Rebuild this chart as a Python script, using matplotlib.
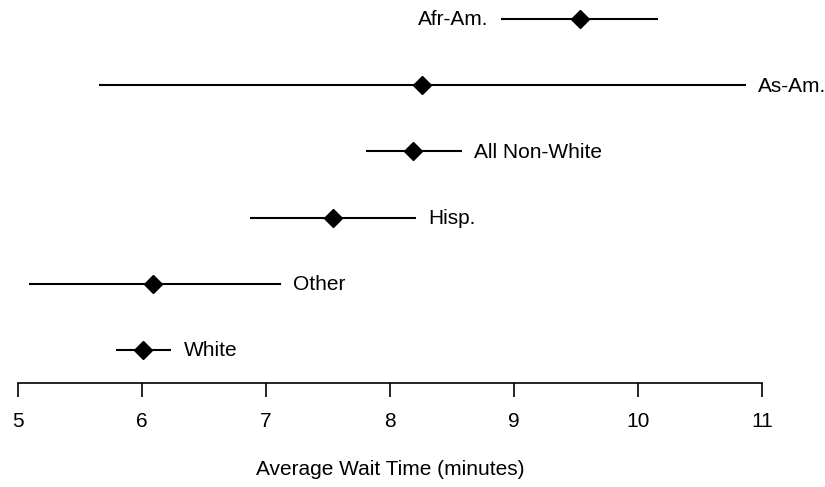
import matplotlib

matplotlib.use("Agg")

import matplotlib.pyplot as plt

plt.rcParams["font.family"] = ["Liberation Sans", "DejaVu Sans"]

# group means with interval bounds (minutes), bottom row first
groups = ["White", "Other", "Hisp.", "All Non-White", "As-Am.", "Afr-Am."]
means = [6.01, 6.09, 7.54, 8.19, 8.26, 9.53]
lower = [5.79, 5.09, 6.875, 7.81, 5.66, 8.90]
upper = [6.24, 7.12, 8.21, 8.58, 10.87, 10.165]
label_left = [False, False, False, False, False, True]

xticks = [5, 6, 7, 8, 9, 10, 11]
FS = 15

fig = plt.figure(figsize=(8.25, 4.87), dpi=100)
ax = fig.add_axes([17.5 / 825, 104 / 487, (762 - 17.5) / 825, 383 / 487])

for i, (name, m, lo, hi, left) in enumerate(zip(groups, means, lower, upper, label_left)):
    ax.plot([lo, hi], [i, i], color="black", lw=1.5, solid_capstyle="butt")
    ax.plot(m, i, marker="D", ms=9, color="black", zorder=3)
    if left:
        ax.annotate(name, (lo, i), xytext=(-9, -0.5), textcoords="offset points",
                    ha="right", va="center", fontsize=FS)
    else:
        ax.annotate(name, (hi, i), xytext=(9, -0.5), textcoords="offset points",
                    ha="left", va="center", fontsize=FS)

ax.set_xlim(5, 11)
ax.set_ylim(-0.5, 5.29)
ax.set_xticks(xticks)
ax.set_xticklabels([str(t) for t in xticks], fontsize=FS)
ax.set_yticks([])
for side in ["top", "right", "left"]:
    ax.spines[side].set_visible(False)
ax.spines["bottom"].set_linewidth(1.2)
ax.tick_params(axis="x", length=10, width=1.2, pad=11)
ax.set_xlabel("Average Wait Time (minutes)", fontsize=FS, labelpad=21)

fig.savefig("out.png", dpi=100)
